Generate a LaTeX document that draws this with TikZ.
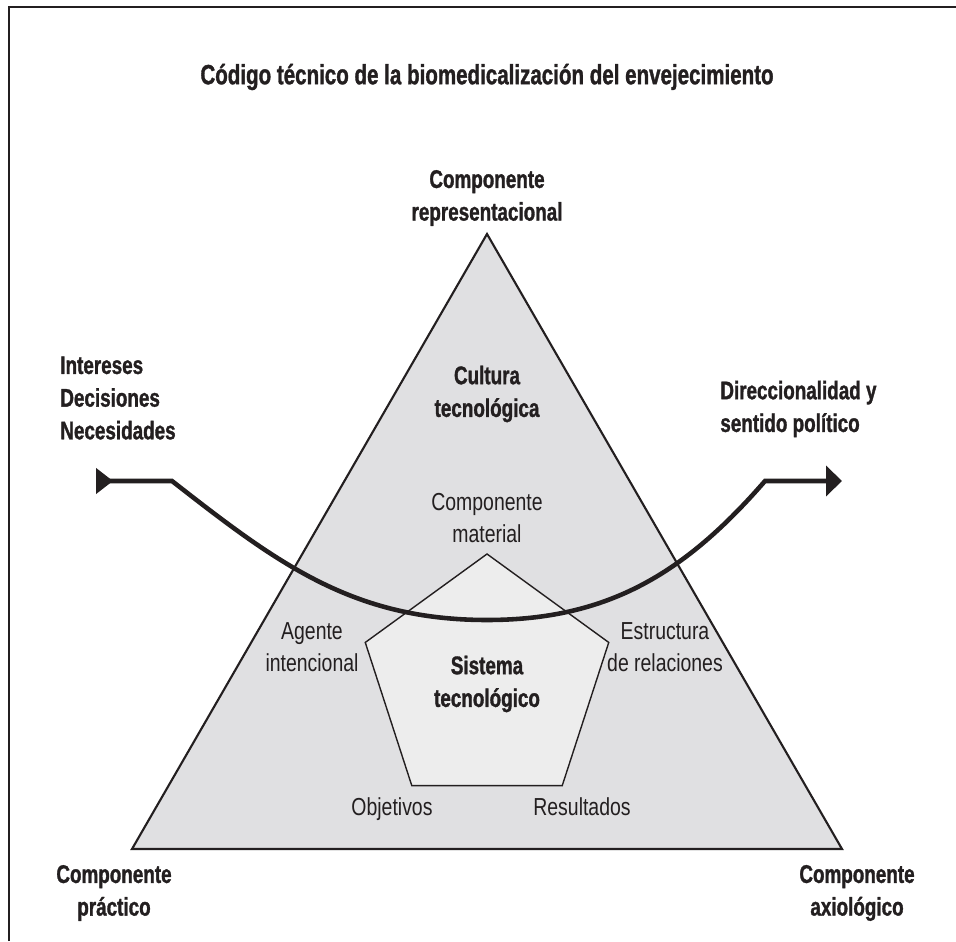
\documentclass[tikz,border=0pt]{standalone}
\usepackage{fontspec}
\setmainfont{Liberation Sans}[FakeStretch=0.79, BoldFeatures={FakeStretch=0.74, FakeBold=1.2}]
\usetikzlibrary{arrows.meta}

\definecolor{tinta}{HTML}{231F20}
\definecolor{grisfondo}{HTML}{E0E0E2}
\definecolor{grisclaro}{HTML}{EDEDED}

\begin{document}
\begin{tikzpicture}[
    etiq/.style={align=center, inner sep=0pt, text=tinta,
      font=\fontsize{14}{18.6}\selectfont},
    negrita/.style={etiq, font=\fontsize{14.5}{18.6}\selectfont\bfseries},
    flecha/.style={draw=tinta, line width=2.6pt,
      {Triangle[reversed, length=0.34cm, width=0.5cm]}-{Triangle[length=0.32cm, width=0.6cm]}}
  ]
  \useasboundingbox (0,0) rectangle (19.12,18.82);

  % --- marco ---
  \draw[tinta, line width=1.4pt] (0.18,0) -- (0.18,18.68) -- (19.12,18.68);

  % --- titulo ---
  \node[negrita, font=\fontsize{15.8}{19}\selectfont\bfseries] (titulo) at (9.74,17.28)
    {Código técnico de la biomedicalización del envejecimiento};

  % --- triangulo ---
  \coordinate (vsup) at (9.74,14.14);
  \coordinate (vizq) at (2.64,1.84);
  \coordinate (vder) at (16.84,1.84);
  \draw[fill=grisfondo, draw=tinta, line width=1.2pt] (vsup) -- (vizq) -- (vder) -- cycle;

  % --- pentagono ---
  \coordinate (pc) at (9.74,5.18);
  \begin{scope}[shift={(pc)}]
    \draw[fill=grisclaro, draw=tinta, line width=0.8pt]
      (90:2.56) -- (162:2.56) -- (234:2.56) -- (306:2.56) -- (18:2.56) -- cycle;
  \end{scope}

  % --- curva ---
  \coordinate (ini) at (1.92,9.2);
  \coordinate (codoizq) at (3.44,9.2);
  \coordinate (fondo) at (9.74,6.42);
  \coordinate (cododer) at (15.3,9.2);
  \coordinate (fin) at (16.84,9.2);
  \draw[flecha] (ini) -- (codoizq) to[out=-38, in=180] (fondo)
    to[out=0, in=-131] (cododer) -- (fin);

  % --- etiquetas ---
  \node[negrita] (repres) at (9.74,14.86) {Componente\\representacional};
  \node[negrita] (cultura) at (9.74,10.94) {Cultura\\tecnológica};
  \node[etiq] (material) at (9.74,8.46) {Componente\\material};
  \node[etiq] (agente) at (6.24,5.88) {Agente\\intencional};
  \node[etiq] (estructura) at (13.3,5.88) {Estructura\\de relaciones};
  \node[negrita] (sistema) at (9.74,5.14) {Sistema\\tecnológico};
  \node[etiq, anchor=base] (objetivos) at (7.84,2.52) {Objetivos};
  \node[etiq, anchor=base] (resultados) at (11.64,2.52) {Resultados};
  \node[negrita] (practico) at (2.28,0.96) {Componente\\práctico};
  \node[negrita] (axiologico) at (17.14,0.96) {Componente\\axiológico};
  \node[negrita, align=left, anchor=west] (intereses) at (1.2,10.86)
    {Intereses\\Decisiones\\Necesidades};
  \node[negrita, align=left, anchor=west] (direcc) at (14.4,10.64)
    {Direccionalidad y\\sentido político};

\end{tikzpicture}
\end{document}
